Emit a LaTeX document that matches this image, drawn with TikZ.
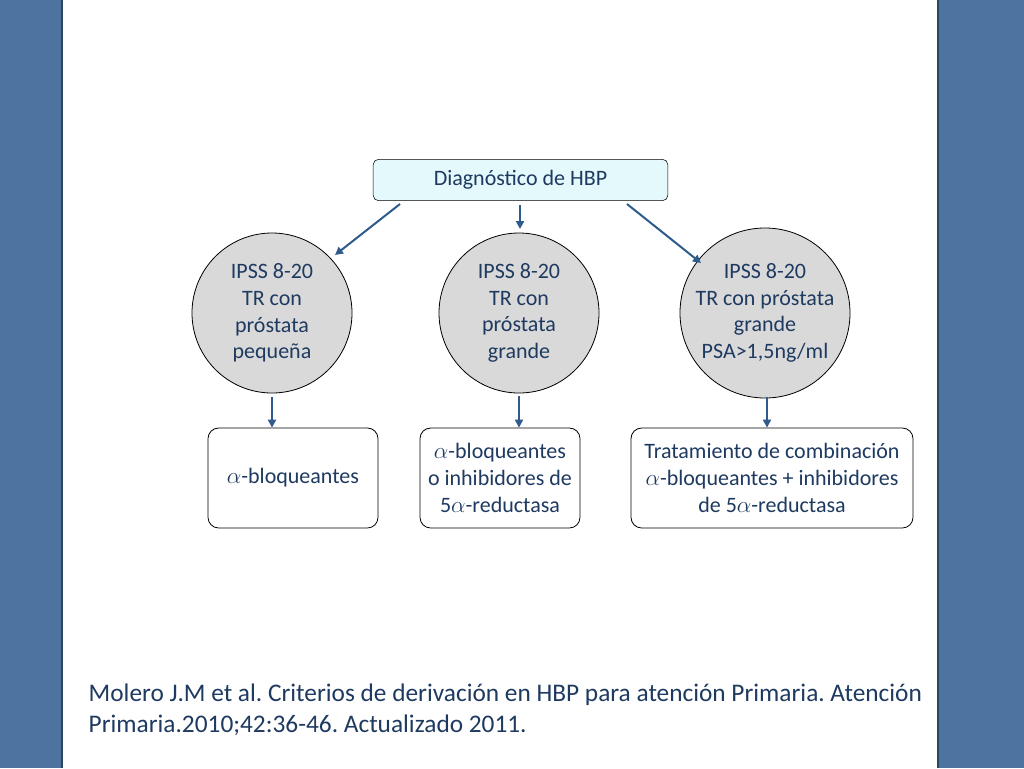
\documentclass[tikz,border=0pt]{standalone}
\usepackage{fontspec}
\setmainfont{Carlito}
\frenchspacing
\usetikzlibrary{arrows.meta}
\definecolor{sideblue}{HTML}{4D73A0}
\definecolor{txt}{HTML}{1F3A60}
\definecolor{arr}{HTML}{2E5A8C}
\definecolor{topfill}{HTML}{E3F9FC}
\tikzset{
 circ/.style={circle,draw=black,fill=gray!30,inner sep=0pt,align=center,font=\fontsize{16.5}{20}\selectfont,text=txt,line width=0.6pt},
 rbox/.style={draw=black,rounded corners=8pt,inner sep=0pt,align=center,font=\fontsize{16.5}{20}\selectfont,text=txt,line width=0.6pt},
 ar/.style={-{Triangle[length=6pt,width=6pt]},draw=arr,line width=1.5pt}
}
\begin{document}
\begin{tikzpicture}[x=0.75pt,y=-0.75pt]
\useasboundingbox (0,0) rectangle (1024,768);
\fill[sideblue] (0,0) rectangle (1024,768);
\fill[white] (62,0) rectangle (938,768);
\draw[sideblue!60!black,line width=1pt] (62,0) -- (62,768) (938,0) -- (938,768);
\node[draw=black,fill=topfill,rounded corners=4pt,minimum width=221pt,minimum height=31pt,text=txt,font=\fontsize{16.5}{20}\selectfont] (top) at (520.5,180) {Diagnóstico de HBP};
\node[circ,minimum size=120pt] (c1) at (272,313) {IPSS 8-20\\TR con\\próstata\\pequeña};
\node[circ,minimum size=120pt] (c2) at (519,313) {IPSS 8-20\\TR con\\próstata\\grande};
\node[circ,minimum size=120pt] (c3) at (765,313) {IPSS 8-20\\TR con próstata\\grande\\PSA>1,5ng/ml};
\node[rbox,minimum width=127.5pt,minimum height=75pt] (b1) at (293,478) {$\alpha$-bloqueantes};
\node[rbox,minimum width=120pt,minimum height=75pt] (b2) at (500,478) {$\alpha$-bloqueantes\\o inhibidores de\\5$\alpha$-reductasa};
\node[rbox,minimum width=211.5pt,minimum height=75pt] (b3) at (772,478) {Tratamiento de combinación\\$\alpha$-bloqueantes + inhibidores\\de 5$\alpha$-reductasa};
\coordinate (a1s) at (400,204); \coordinate (a1e) at (335,255);
\coordinate (a2s) at (520,205); \coordinate (a2e) at (520,229);
\coordinate (a3s) at (627,204); \coordinate (a3e) at (701,263);
\draw[ar] (a1s) -- (a1e);
\draw[ar] (a2s) -- (a2e);
\draw[ar] (a3s) -- (a3e);
\draw[ar] (272,397) -- (b1.north -| 272,0);
\draw[ar] (519,396) -- (b2.north -| 519,0);
\draw[ar] (767,397) -- (b3.north -| 767,0);
\node[anchor=west,text=txt,font=\fontsize{19}{23}\selectfont,align=left] (cit) at (84,710) {Molero J.M et al. Criterios de derivación en HBP para atención Primaria. Atención\\Primaria.2010;42:36-46. Actualizado 2011.};
\end{tikzpicture}
\end{document}
